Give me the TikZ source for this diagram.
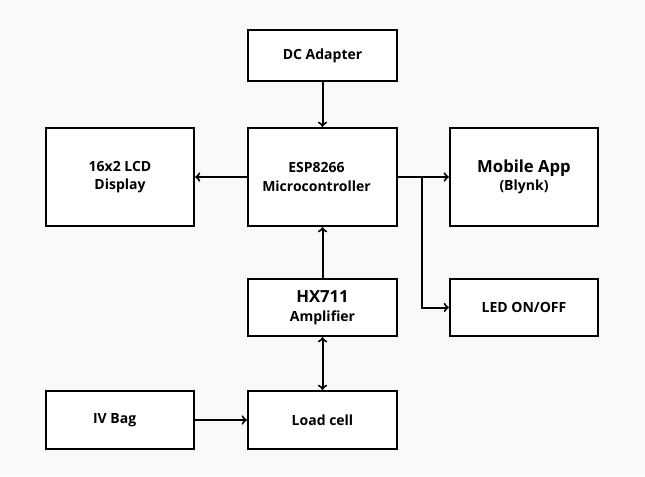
\documentclass[tikz,border=0pt]{standalone}
\usepackage{fontspec}
\setmainfont{Open Sans}
\usetikzlibrary{positioning}
\definecolor{bgcol}{HTML}{F8F9FB}
\tikzset{
  blockbox/.style={draw, line width=1.7pt, fill=white, align=center,
    font=\bfseries\fontsize{10.5}{14}\selectfont, inner sep=0pt},
  link/.style={line width=1.5pt, ->, >=to}
}
\begin{document}
\begin{tikzpicture}[x=0.75pt, y=-0.75pt]
    % background and size
    \fill[bgcol] (0,0) rectangle (645,476);
    \useasboundingbox (0,0) rectangle (645,476);
    % blocks
    \node[blockbox, minimum width=111.75pt, minimum height=38.25pt] (dc) at (322.5,55.5) {DC Adapter};
    \node[blockbox, minimum width=111.75pt, minimum height=73.5pt] (esp) at (322.5,177) {\hspace*{-9pt}ESP8266\\\hspace*{-9pt}Microcontroller};
    \node[blockbox, minimum width=111pt, minimum height=73.5pt] (lcd) at (120,177) {16x2 LCD\\Display};
    \node[blockbox, minimum width=111pt, minimum height=73.5pt] (app) at (524,177) {{\fontsize{12.5}{18}\selectfont Mobile App}\\(Blynk)};
    \node[blockbox, minimum width=111.75pt, minimum height=42.75pt] (hx) at (322.5,307.5) {{\fontsize{12.5}{17}\selectfont HX711}\\Amplifier};
    \node[blockbox, minimum width=111pt, minimum height=42.75pt] (led) at (524,307.5) {LED ON/OFF};
    \node[blockbox, minimum width=111pt, minimum height=43.5pt] (iv) at (120,420) {\hspace*{-8pt}IV Bag};
    \node[blockbox, minimum width=111.75pt, minimum height=43.5pt] (load) at (322.5,420) {Load cell};
    % connections
    \draw[link] (dc) -- (esp);
    \draw[link] (esp) -- (lcd);
    \draw[link] (esp) -- (app);
    \coordinate (br) at (422,177);
    \draw[link] (br) |- (led.west);
    \draw[link] (hx) -- (esp);
    \draw[link, <->] (load) -- (hx);
    \draw[link] (iv) -- (load);
\end{tikzpicture}
\end{document}
